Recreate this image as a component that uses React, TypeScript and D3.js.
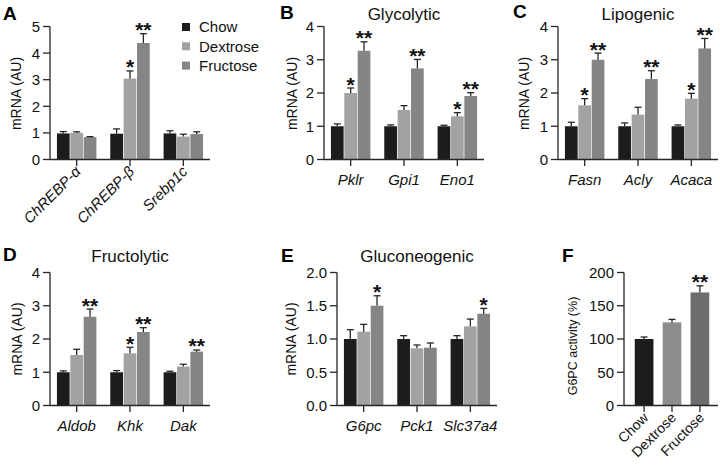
import React from 'react';
import * as d3 from 'd3';

const FONT = '"Liberation Sans", Arial, Helvetica, sans-serif';

const diets = ['Chow', 'Dextrose', 'Fructose'];
const dietColors = ['#1c1c1c', '#a2a2a2', '#858585'];
const dietColorsF = ['#1c1c1c', '#8d8d8d', '#6d6d6d'];

// A: transcription factors
const aGenes = ['ChREBP-α', 'ChREBP-β', 'Srebp1c'];
const aMeans = [[0.98, 1.0, 0.84], [0.97, 3.04, 4.38], [0.98, 0.86, 0.96]];
const aSems = [[0.07, 0.04, 0.02], [0.18, 0.29, 0.35], [0.1, 0.09, 0.08]];
const aStars = [['', '', ''], ['', '*', '**'], ['', '', '']];

// B: glycolytic
const bGenes = ['Pklr', 'Gpi1', 'Eno1'];
const bMeans = [[1.0, 2.0, 3.27], [1.0, 1.49, 2.74], [1.0, 1.3, 1.91]];
const bSems = [[0.07, 0.15, 0.27], [0.04, 0.13, 0.27], [0.03, 0.11, 0.1]];
const bStars = [['', '*', '**'], ['', '', '**'], ['', '*', '**']];

// C: lipogenic
const cGenes = ['Fasn', 'Acly', 'Acaca'];
const cMeans = [[1.0, 1.63, 3.0], [1.0, 1.35, 2.42], [1.0, 1.83, 3.34]];
const cSems = [[0.12, 0.2, 0.2], [0.1, 0.22, 0.25], [0.04, 0.16, 0.3]];
const cStars = [['', '*', '**'], ['', '', '**'], ['', '*', '**']];

// D: fructolytic
const dGenes = ['Aldob', 'Khk', 'Dak'];
const dMeans = [[1.0, 1.52, 2.67], [1.0, 1.57, 2.21], [1.0, 1.17, 1.62]];
const dSems = [[0.04, 0.17, 0.23], [0.05, 0.18, 0.13], [0.03, 0.07, 0.05]];
const dStars = [['', '', '**'], ['', '*', '**'], ['', '', '**']];

// E: gluconeogenic
const eGenes = ['G6pc', 'Pck1', 'Slc37a4'];
const eMeans = [[1.0, 1.11, 1.5], [1.0, 0.86, 0.87], [1.0, 1.19, 1.38]];
const eSems = [[0.14, 0.11, 0.15], [0.05, 0.05, 0.07], [0.05, 0.11, 0.08]];
const eStars = [['', '', '*'], ['', '', ''], ['', '', '*']];

// F: G6PC activity
const fMeans = [[100], [125], [170]];
const fSems = [[3], [4.5], [10]];
const fStars = [[''], [''], ['**']];

const ticks5 = [0, 1, 2, 3, 4, 5];
const ticks4 = [0, 1, 2, 3, 4];
const ticksE = [0, 0.5, 1.0, 1.5, 2.0];
const ticksF = [0, 50, 100, 150, 200];

type PanelProps = {
  left: number;
  right: number;
  band: [number, number];
  inner: number;
  outer: number;
  base: number;
  top: number;
  max: number;
  ticks: number[];
  fmt: (v: number) => string;
  cats: string[];
  means: number[][];
  sems: number[][];
  stars: string[][];
  colors: string[];
  letter: string;
  letterX: number;
  letterY: number;
  title?: string;
  titleY?: number;
  yTitle: string;
  yTitleX: number;
  yTitleY: number;
  yTitleSize?: number;
  rotated?: boolean;
};

function Panel(p: PanelProps) {
  const x = d3.scaleBand<string>().domain(p.cats).range(p.band).paddingInner(p.inner).paddingOuter(p.outer);
  const nSub = p.means[0].length;
  const xs = d3.scaleBand<number>().domain(d3.range(nSub)).range([0, x.bandwidth()]).paddingInner(nSub > 1 ? 0.05 : 0);
  const y = d3.scaleLinear().domain([0, p.max]).range([p.base, p.top]);
  const stroke = '#262626';

  return (
    <g fontFamily={FONT}>
      <text x={p.letterX} y={p.letterY} fontSize={19} fontWeight="bold" fill="#000">{p.letter}</text>
      {p.title && (
        <text x={(p.left + p.right) / 2} y={p.titleY} fontSize={17} textAnchor="middle" fill="#111">{p.title}</text>
      )}
      <text
        transform={`translate(${p.yTitleX},${p.yTitleY}) rotate(-90)`}
        fontSize={p.yTitleSize ?? 14}
        textAnchor="middle"
        fill="#111"
      >
        {p.yTitle}
      </text>

      {/* bars, error bars, stars */}
      {p.cats.map((c, i) =>
        p.means[i].map((m, j) => {
          const bx = (x(c) ?? 0) + (xs(j) ?? 0);
          const bw = xs.bandwidth();
          const cx = bx + bw / 2;
          const eTop = y(m + p.sems[i][j]);
          const fill = nSub === 1 ? p.colors[i] : p.colors[j];
          return (
            <g key={`${c}-${j}`}>
              <rect x={bx} y={y(m)} width={bw} height={p.base - y(m)} fill={fill} />
              <line x1={cx} x2={cx} y1={y(m)} y2={eTop} stroke={stroke} strokeWidth={1.3} />
              <line x1={cx - 3.5} x2={cx + 3.5} y1={eTop} y2={eTop} stroke={stroke} strokeWidth={1.3} />
              {p.stars[i][j] && (
                <text x={cx} y={eTop + 3.5} fontSize={21} fontWeight="bold" textAnchor="middle" fill="#111">
                  {p.stars[i][j]}
                </text>
              )}
            </g>
          );
        })
      )}

      {/* y axis */}
      <line x1={p.left} x2={p.left} y1={y(p.max)} y2={p.base + 0.6} stroke={stroke} strokeWidth={1.3} />
      {p.ticks.map((t) => (
        <g key={t}>
          <line x1={p.left - 7} x2={p.left} y1={y(t)} y2={y(t)} stroke={stroke} strokeWidth={1.3} />
          <text x={p.left - 10} y={y(t)} dy="0.36em" fontSize={15} textAnchor="end" fill="#111">{p.fmt(t)}</text>
        </g>
      ))}

      {/* x axis */}
      <line x1={p.left} x2={p.right} y1={p.base} y2={p.base} stroke={stroke} strokeWidth={1.3} />
      {p.cats.map((c) => {
        const cx = (x(c) ?? 0) + x.bandwidth() / 2;
        return (
          <g key={c}>
            <line x1={cx} x2={cx} y1={p.base} y2={p.base + 6.5} stroke={stroke} strokeWidth={1.3} />
            {p.rotated ? (
              <text
                transform={`translate(${cx + 5},${p.base + 13}) rotate(-45)`}
                fontSize={nSub === 1 ? 14 : 15}
                fontStyle={nSub === 1 ? 'normal' : 'italic'}
                textAnchor="end"
                fill="#111"
              >
                {c}
              </text>
            ) : (
              <text x={cx} y={p.base + 25.5} fontSize={15} fontStyle="italic" textAnchor="middle" fill="#111">{c}</text>
            )}
          </g>
        );
      })}
    </g>
  );
}

function Legend({ x, y }: { x: number; y: number }) {
  return (
    <g fontFamily={FONT}>
      {diets.map((d, i) => (
        <g key={d} transform={`translate(${x},${y + i * 19.3})`}>
          <rect x={0} y={-4} width={8} height={8} fill={dietColors[i]} />
          <text x={17} y={0} dy="0.36em" fontSize={15} fill="#111">{d}</text>
        </g>
      ))}
    </g>
  );
}

const intFmt = (v: number) => d3.format('d')(v);
const decFmt = (v: number) => d3.format('.1f')(v);

export default function App() {
  const topBase = 159.5;
  const topTop = 26.5;
  const botBase = 405.5;
  const botTop = 272.5;
  return (
    <svg width={720} height={469} style={{ position: 'absolute', left: 0, top: 0, background: '#fff' }}>
      <rect width={720} height={469} fill="#fff" />
      <Panel
        left={50} right={210} band={[50, 210]} inner={0.26} outer={0.13}
        base={topBase} top={topTop} max={5} ticks={ticks5} fmt={intFmt}
        cats={aGenes} means={aMeans} sems={aSems} stars={aStars} colors={dietColors}
        letter="A" letterX={3} letterY={20}
        yTitle="mRNA (AU)" yTitleX={21} yTitleY={93.5} rotated
      />
      <Legend x={182} y={27} />
      <Panel
        left={324} right={484} band={[324, 484]} inner={0.26} outer={0.13}
        base={topBase} top={topTop} max={4} ticks={ticks4} fmt={intFmt}
        cats={bGenes} means={bMeans} sems={bSems} stars={bStars} colors={dietColors}
        letter="B" letterX={280} letterY={18.5} title="Glycolytic" titleY={19.5}
        yTitle="mRNA (AU)" yTitleX={297} yTitleY={93.5}
      />
      <Panel
        left={558} right={718} band={[558, 718]} inner={0.26} outer={0.13}
        base={topBase} top={topTop} max={4} ticks={ticks4} fmt={intFmt}
        cats={cGenes} means={cMeans} sems={cSems} stars={cStars} colors={dietColors}
        letter="C" letterX={513} letterY={18} title="Lipogenic" titleY={19.5}
        yTitle="mRNA (AU)" yTitleX={529} yTitleY={93.5}
      />
      <Panel
        left={50} right={210} band={[50, 210]} inner={0.26} outer={0.13}
        base={botBase} top={botTop} max={4} ticks={ticks4} fmt={intFmt}
        cats={dGenes} means={dMeans} sems={dSems} stars={dStars} colors={dietColors}
        letter="D" letterX={3} letterY={261} title="Fructolytic" titleY={262}
        yTitle="mRNA (AU)" yTitleX={22} yTitleY={339}
      />
      <Panel
        left={337} right={497} band={[337, 497]} inner={0.26} outer={0.13}
        base={botBase} top={botTop} max={2} ticks={ticksE} fmt={decFmt}
        cats={eGenes} means={eMeans} sems={eSems} stars={eStars} colors={dietColors}
        letter="E" letterX={281} letterY={261.5} title="Gluconeogenic" titleY={262}
        yTitle="mRNA (AU)" yTitleX={296} yTitleY={339}
      />
      <Panel
        left={624} right={718} band={[630, 714]} inner={0.33} outer={0.17}
        base={botBase} top={botTop} max={200} ticks={ticksF} fmt={intFmt}
        cats={diets} means={fMeans} sems={fSems} stars={fStars} colors={dietColorsF}
        letter="F" letterX={562} letterY={261.5}
        yTitle="G6PC activity (%)" yTitleX={577} yTitleY={346} yTitleSize={12.5}
        rotated
      />
    </svg>
  );
}
